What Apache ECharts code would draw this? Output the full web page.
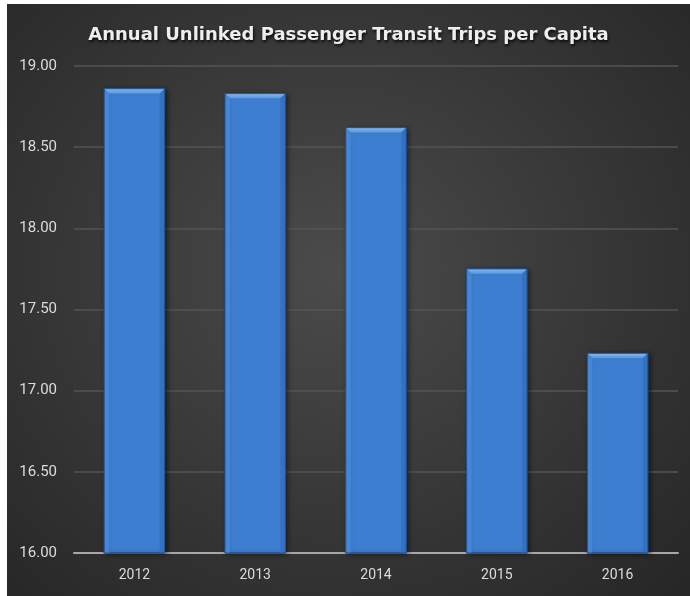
<!DOCTYPE html>
<html>
<head>
<meta charset="utf-8">
<script src="https://cdn.jsdelivr.net/npm/echarts@6/dist/echarts.min.js"></script>
<style>
html,body{margin:0;padding:0;background:#ffffff;}
#chart{position:absolute;left:7px;top:4px;width:683px;height:592px;
background:radial-gradient(ellipse at 48% 45%, #4b4b4b 0%, #3a3a3a 45%, #262626 100%);}
</style>
</head>
<body>
<div id="chart"></div>
<script>
const titleText = 'Annual Unlinked Passenger Transit Trips per Capita';
const years = ['2012', '2013', '2014', '2015', '2016'];
const tripsPerCapita = [18.86, 18.83, 18.62, 17.75, 17.23];
const yMin = 16, yMax = 19, yStep = 0.5;

function renderBar(params, api) {
  const idx = api.value(0);
  const val = api.value(1);
  const top = api.coord([idx, val]);
  const base = api.coord([idx, yMin]);
  const w = api.size([1, 0])[0] * 0.5;
  const x0 = top[0] - w / 2, x1 = top[0] + w / 2;
  const y0 = top[1], y1 = base[1];
  const b = 5;
  return {
    type: 'group',
    children: [
      { type: 'rect', shape: { x: x0, y: y0, width: w, height: y1 - y0 },
        style: { fill: '#3d7ed0', stroke: '#1d4478', lineWidth: 1,
                 shadowColor: 'rgba(0,0,0,0.55)', shadowBlur: 5, shadowOffsetX: 2, shadowOffsetY: 1 } },
      { type: 'polygon', shape: { points: [[x0, y0], [x1, y0], [x1 - b, y0 + b], [x0 + b, y0 + b]] },
        style: { fill: new echarts.graphic.LinearGradient(0, 0, 0, 1, [
          { offset: 0, color: '#86b9f2' }, { offset: 1, color: '#5592dc' }]) } },
      { type: 'polygon', shape: { points: [[x0, y0], [x0 + b, y0 + b], [x0 + b, y1], [x0, y1]] },
        style: { fill: '#4686d6' } },
      { type: 'polygon', shape: { points: [[x1, y0], [x1 - b, y0 + b], [x1 - b, y1], [x1, y1]] },
        style: { fill: '#3471c0' } },
      { type: 'rect', shape: { x: x0, y: y0, width: w, height: y1 - y0 },
        style: { fill: 'none', stroke: '#23528e', lineWidth: 1 } }
    ]
  };
}

const chart = echarts.init(document.getElementById('chart'));
chart.setOption({
  backgroundColor: 'transparent',
  title: {
    text: titleText,
    left: 'center',
    top: 17,
    textStyle: {
      color: '#eeeeee',
      fontFamily: 'DejaVu Sans',
      fontWeight: 'bold',
      fontSize: 18,
      textShadowColor: 'rgba(0,0,0,0.85)',
      textShadowBlur: 3,
      textShadowOffsetX: 1,
      textShadowOffsetY: 2
    }
  },
  grid: { left: 67, right: 12, top: 62, bottom: 43, containLabel: false },
  xAxis: {
    type: 'category',
    data: years,
    axisLine: { show: true, lineStyle: { color: '#a8a8a8', width: 2 } },
    axisTick: { show: false },
    axisLabel: { color: '#dcdcdc', fontFamily: 'Roboto', fontSize: 14, margin: 15 }
  },
  yAxis: {
    type: 'value',
    min: yMin, max: yMax, interval: yStep,
    axisLine: { show: false },
    axisTick: { show: false },
    splitLine: { lineStyle: { color: '#555555', width: 1.5 } },
    axisLabel: {
      color: '#dcdcdc', fontFamily: 'Roboto', fontSize: 15, margin: 17,
      formatter: v => v.toFixed(2)
    }
  },
  series: [{
    type: 'custom',
    renderItem: renderBar,
    encode: { x: 0, y: 1 },
    data: years.map((y, i) => [i, tripsPerCapita[i]])
  }]
});
</script>
</body>
</html>
